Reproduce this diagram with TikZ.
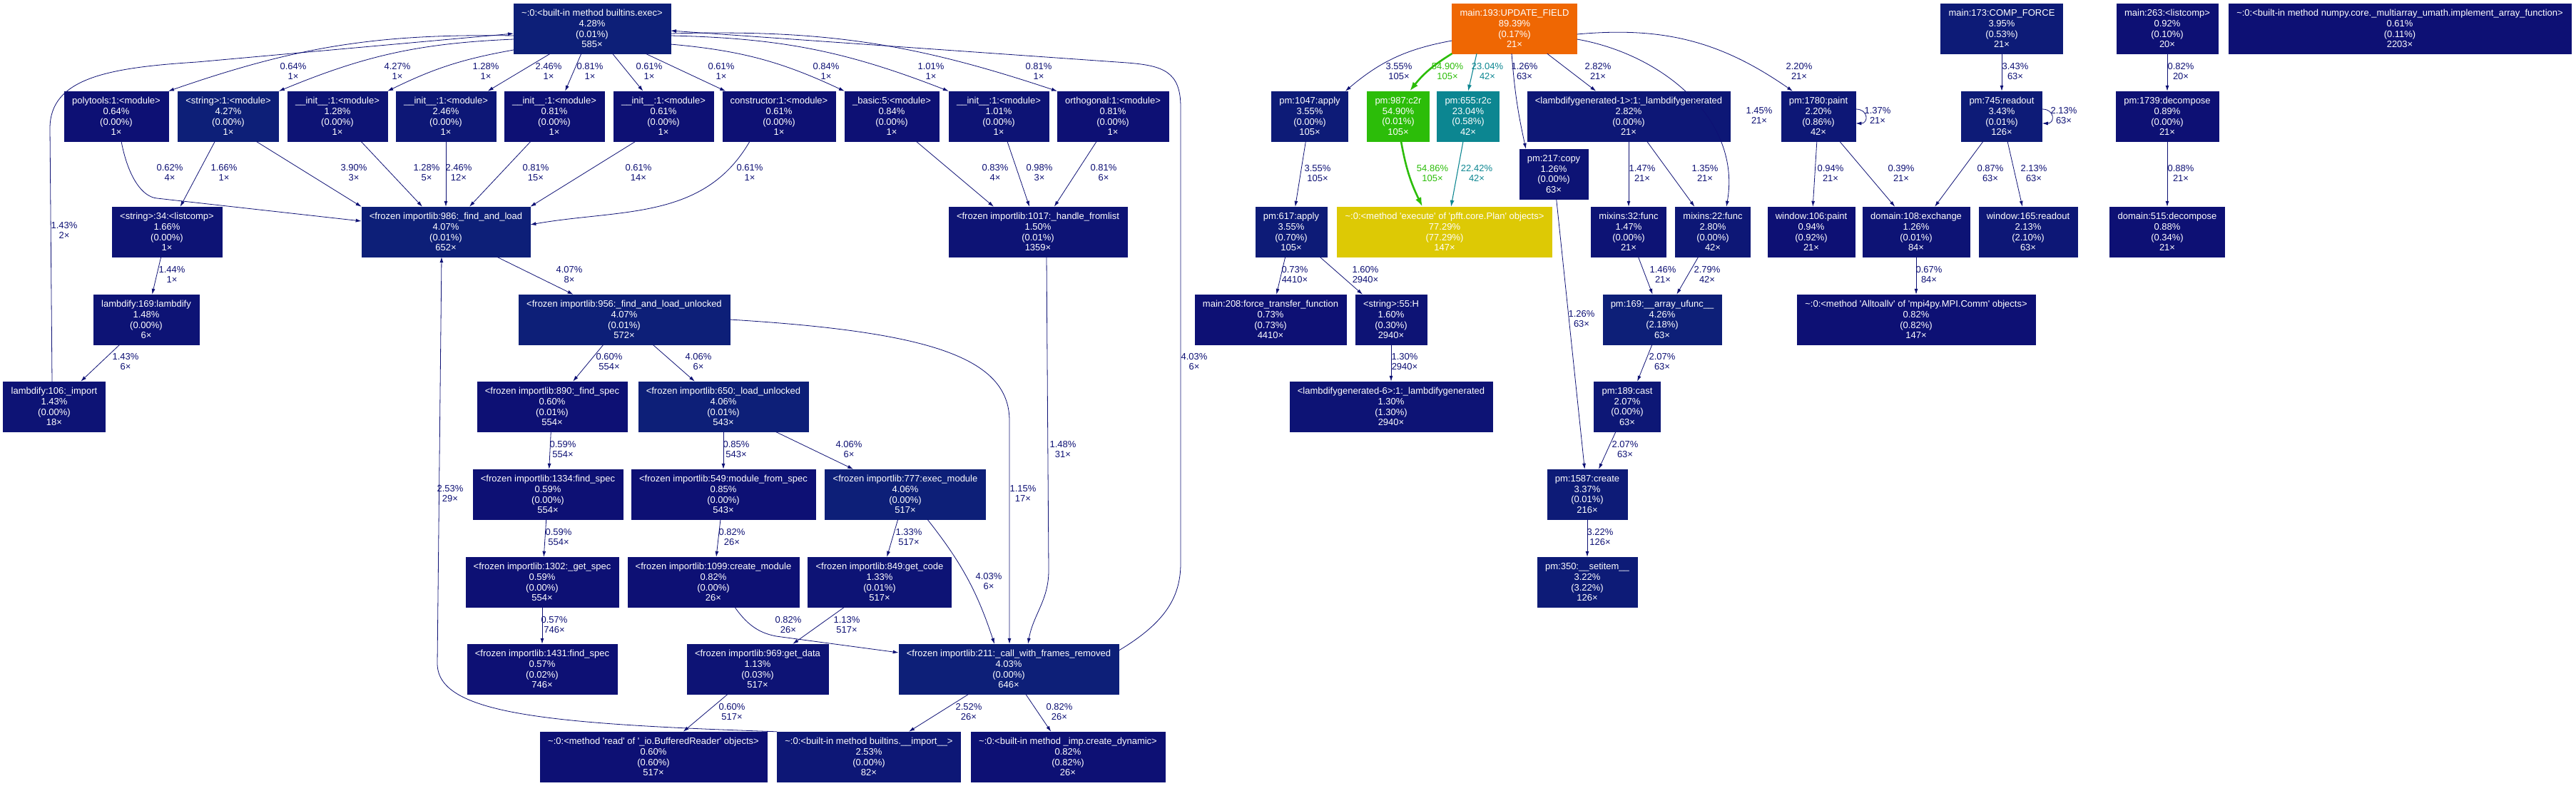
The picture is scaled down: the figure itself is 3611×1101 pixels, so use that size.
\documentclass[tikz,border=0pt]{standalone}
\usepackage{fontspec}
\newfontfamily\gvfont{Liberation Sans}
\usetikzlibrary{arrows.meta,calc}

\definecolor{navyA}{HTML}{0D1074}
\definecolor{navyB}{HTML}{0D1375}
\definecolor{navyC}{HTML}{0D1776}
\definecolor{navyD}{HTML}{0D1B77}
\definecolor{navyE}{HTML}{0D1F78}
\definecolor{hotorange}{HTML}{EF6703}
\definecolor{hotgreen}{HTML}{2CBD09}
\definecolor{hotteal}{HTML}{0C8691}
\definecolor{hotyellow}{HTML}{DDC905}

\newcommand{\fnlabel}[4]{#1\\#2\%\\(#3\%)\\#4×}
\newcommand{\edlabel}[2]{#1\%\\#2×}

\tikzset{
  fn/.style={rectangle, draw=#1, fill=#1, text=white, align=center,
    minimum height=70pt, inner xsep=11pt, inner ysep=1pt,
    font=\gvfont\fontsize{13}{14.7}\selectfont},
  fn/.default=navyA,
  call/.style={->, draw=navyA, line width=0.8pt},
  callhot/.style={call, draw=hotgreen, line width=2.6pt, >={Latex[length=13pt,width=9pt]}},
  callwarm/.style={call, draw=hotteal, line width=1.1pt, >={Latex[length=9pt,width=6pt]}},
  cnt/.style={align=center, text=navyA, inner sep=0pt,
    font=\gvfont\fontsize{13}{14.7}\selectfont},
}

\begin{document}
\begin{tikzpicture}[x=1pt, y=1pt, >={Latex[length=8pt,width=5pt]}]
        \useasboundingbox (0,0) rectangle (3611,-1101);

        % Riga superiore
        \node[fn=navyE] (exec) at (830,-40) {\fnlabel{\textasciitilde:0:<built-in method builtins.exec>}{4.28}{0.01}{585}};
        \node[fn=hotorange] (upd) at (2123,-40) {\fnlabel{main:193:UPDATE\_FIELD}{89.39}{0.17}{21}};
        \node[fn=navyD] (force) at (2806,-40) {\fnlabel{main:173:COMP\_FORCE}{3.95}{0.53}{21}};
        \node[fn] (lc263) at (3038,-40) {\fnlabel{main:263:<listcomp>}{0.92}{0.10}{20}};
        \node[fn] (npfunc) at (3364,-40) {\fnlabel{\textasciitilde:0:<built-in method numpy.core.\_multiarray\_umath.implement\_array\_function>}{0.61}{0.11}{2203}};

        % Moduli importati
        \node[fn] (polytools) at (163,-163) {\fnlabel{polytools:1:<module>}{0.64}{0.00}{1}};
        \node[fn=navyE] (str1) at (320,-163) {\fnlabel{<string>:1:<module>}{4.27}{0.00}{1}};
        \node[fn=navyB] (initA) at (473,-163) {\fnlabel{\_\_init\_\_:1:<module>}{1.28}{0.00}{1}};
        \node[fn=navyC] (initB) at (625,-163) {\fnlabel{\_\_init\_\_:1:<module>}{2.46}{0.00}{1}};
        \node[fn] (initC) at (777,-163) {\fnlabel{\_\_init\_\_:1:<module>}{0.81}{0.00}{1}};
        \node[fn] (initD) at (930,-163) {\fnlabel{\_\_init\_\_:1:<module>}{0.61}{0.00}{1}};
        \node[fn] (constr) at (1092,-163) {\fnlabel{constructor:1:<module>}{0.61}{0.00}{1}};
        \node[fn] (basic) at (1250,-163) {\fnlabel{\_basic:5:<module>}{0.84}{0.00}{1}};
        \node[fn=navyB] (initE) at (1400,-163) {\fnlabel{\_\_init\_\_:1:<module>}{1.01}{0.00}{1}};
        \node[fn] (ortho) at (1560,-163) {\fnlabel{orthogonal:1:<module>}{0.81}{0.00}{1}};

        % Chiamate di UPDATE_FIELD e COMP_FORCE
        \node[fn=navyD] (apply1047) at (1836,-163) {\fnlabel{pm:1047:apply}{3.55}{0.00}{105}};
        \node[fn=hotgreen] (c2r) at (1960,-163) {\fnlabel{pm:987:c2r}{54.90}{0.01}{105}};
        \node[fn=hotteal] (r2c) at (2058,-163) {\fnlabel{pm:655:r2c}{23.04}{0.58}{42}};
        \node[fn=navyC] (lgen1) at (2283,-163) {\fnlabel{<lambdifygenerated-1>:1:\_lambdifygenerated}{2.82}{0.00}{21}};
        \node[fn=navyC] (paint) at (2549,-163) {\fnlabel{pm:1780:paint}{2.20}{0.86}{42}};
        \node[fn=navyD] (readout) at (2806,-163) {\fnlabel{pm:745:readout}{3.43}{0.01}{126}};
        \node[fn] (decomp) at (3038,-163) {\fnlabel{pm:1739:decompose}{0.89}{0.00}{21}};
        \node[fn=navyB] (copy) at (2178,-244) {\fnlabel{pm:217:copy}{1.26}{0.00}{63}};

        \node[fn=navyB] (lc34) at (234,-325) {\fnlabel{<string>:34:<listcomp>}{1.66}{0.00}{1}};
        \node[fn=navyE] (findload) at (625,-325) {\fnlabel{<frozen importlib:986:\_find\_and\_load}{4.07}{0.01}{652}};
        \node[fn=navyB] (fromlist) at (1455,-325) {\fnlabel{<frozen importlib:1017:\_handle\_fromlist}{1.50}{0.01}{1359}};
        \node[fn=navyD] (apply617) at (1810,-325) {\fnlabel{pm:617:apply}{3.55}{0.70}{105}};
        \node[fn=hotyellow] (execute) at (2025,-325) {\fnlabel{\textasciitilde:0:<method \textquotesingle execute\textquotesingle{} of \textquotesingle pfft.core.Plan\textquotesingle{} objects>}{77.29}{77.29}{147}};
        \node[fn=navyB] (mix32) at (2283,-325) {\fnlabel{mixins:32:func}{1.47}{0.00}{21}};
        \node[fn=navyC] (mix22) at (2401,-325) {\fnlabel{mixins:22:func}{2.80}{0.00}{42}};
        \node[fn] (wpaint) at (2539,-325) {\fnlabel{window:106:paint}{0.94}{0.92}{21}};
        \node[fn=navyB] (exchange) at (2686,-325) {\fnlabel{domain:108:exchange}{1.26}{0.01}{84}};
        \node[fn=navyC] (wread) at (2843,-325) {\fnlabel{window:165:readout}{2.13}{2.10}{63}};
        \node[fn] (ddecomp) at (3038,-325) {\fnlabel{domain:515:decompose}{0.88}{0.34}{21}};

        \node[fn=navyB] (lambdify) at (205,-448) {\fnlabel{lambdify:169:lambdify}{1.48}{0.00}{6}};
        \node[fn=navyE] (unlocked) at (875,-448) {\fnlabel{<frozen importlib:956:\_find\_and\_load\_unlocked}{4.07}{0.01}{572}};
        \node[fn] (transfer) at (1781,-448) {\fnlabel{main:208:force\_transfer\_function}{0.73}{0.73}{4410}};
        \node[fn=navyB] (strH) at (1950,-448) {\fnlabel{<string>:55:H}{1.60}{0.30}{2940}};
        \node[fn=navyE] (ufunc) at (2330,-448) {\fnlabel{pm:169:\_\_array\_ufunc\_\_}{4.26}{2.18}{63}};
        \node[fn] (alltoallv) at (2686,-448) {\fnlabel{\textasciitilde:0:<method \textquotesingle Alltoallv\textquotesingle{} of \textquotesingle mpi4py.MPI.Comm\textquotesingle{} objects>}{0.82}{0.82}{147}};

        \node[fn=navyB] (import106) at (76,-570) {\fnlabel{lambdify:106:\_import}{1.43}{0.00}{18}};
        \node[fn] (spec890) at (774,-570) {\fnlabel{<frozen importlib:890:\_find\_spec}{0.60}{0.01}{554}};
        \node[fn=navyE] (loadunl) at (1014,-570) {\fnlabel{<frozen importlib:650:\_load\_unlocked}{4.06}{0.01}{543}};
        \node[fn=navyB] (lgen6) at (1950,-570) {\fnlabel{<lambdifygenerated-6>:1:\_lambdifygenerated}{1.30}{1.30}{2940}};
        \node[fn=navyC] (cast) at (2281,-570) {\fnlabel{pm:189:cast}{2.07}{0.00}{63}};

        \node[fn] (spec1334) at (768,-693) {\fnlabel{<frozen importlib:1334:find\_spec}{0.59}{0.00}{554}};
        \node[fn] (fromspec) at (1014,-693) {\fnlabel{<frozen importlib:549:module\_from\_spec}{0.85}{0.00}{543}};
        \node[fn=navyE] (execmod) at (1269,-693) {\fnlabel{<frozen importlib:777:exec\_module}{4.06}{0.00}{517}};
        \node[fn=navyD] (create) at (2225,-693) {\fnlabel{pm:1587:create}{3.37}{0.01}{216}};

        \node[fn] (getspec) at (760,-816) {\fnlabel{<frozen importlib:1302:\_get\_spec}{0.59}{0.00}{554}};
        \node[fn] (createmod) at (1000,-816) {\fnlabel{<frozen importlib:1099:create\_module}{0.82}{0.00}{26}};
        \node[fn=navyB] (getcode) at (1233,-816) {\fnlabel{<frozen importlib:849:get\_code}{1.33}{0.01}{517}};
        \node[fn=navyD] (setitem) at (2225,-816) {\fnlabel{pm:350:\_\_setitem\_\_}{3.22}{3.22}{126}};

        \node[fn] (spec1431) at (760,-938) {\fnlabel{<frozen importlib:1431:find\_spec}{0.57}{0.02}{746}};
        \node[fn=navyB] (getdata) at (1062,-938) {\fnlabel{<frozen importlib:969:get\_data}{1.13}{0.03}{517}};
        \node[fn=navyE] (frames) at (1414,-938) {\fnlabel{<frozen importlib:211:\_call\_with\_frames\_removed}{4.03}{0.00}{646}};

        \node[fn] (readbuf) at (916,-1061) {\fnlabel{\textasciitilde:0:<method \textquotesingle read\textquotesingle{} of \textquotesingle\_io.BufferedReader\textquotesingle{} objects>}{0.60}{0.60}{517}};
        \node[fn=navyC] (bimport) at (1218,-1061) {\fnlabel{\textasciitilde:0:<built-in method builtins.\_\_import\_\_>}{2.53}{0.00}{82}};
        \node[fn] (dynamic) at (1497,-1061) {\fnlabel{\textasciitilde:0:<built-in method \_imp.create\_dynamic>}{0.82}{0.82}{26}};

        % Archi da builtins.exec
        \draw[call] ($(exec.west)+(0,-10)$) to[bend right=10] (polytools.north east) node[cnt] at (411,-100) {\edlabel{0.64}{1}};
        \draw[call] ($(exec.west)+(0,-15)$) to[bend right=10] (str1.north east) node[cnt] at (557,-100) {\edlabel{4.27}{1}};
        \draw[call] ($(exec.west)+(0,-30)$) to[bend right=8] (initA.north east) node[cnt] at (681,-100) {\edlabel{1.28}{1}};
        \draw[call] (exec) -- (initB) node[cnt] at (769,-100) {\edlabel{2.46}{1}};
        \draw[call] (exec) -- (initC) node[cnt] at (827,-100) {\edlabel{0.81}{1}};
        \draw[call] (exec) -- (initD) node[cnt] at (910,-100) {\edlabel{0.61}{1}};
        \draw[call] (exec) -- (constr) node[cnt] at (1011,-100) {\edlabel{0.61}{1}};
        \draw[call] ($(exec.east)+(0,-22)$) to[bend left=10] (basic.north west) node[cnt] at (1158,-100) {\edlabel{0.84}{1}};
        \draw[call] ($(exec.east)+(0,-10)$) to[bend left=10] (initE.north west) node[cnt] at (1305,-100) {\edlabel{1.01}{1}};
        \draw[call] ($(exec.east)+(0,-7)$) to[bend left=10] (ortho.north west) node[cnt] at (1456,-100) {\edlabel{0.81}{1}};

        % Import: find_and_load
        \draw[call] ($(polytools.south)+(7,0)$) .. controls (180,-250) and (200,-276) .. (220,-278) -- ($(findload.west)+(0,15)$) node[cnt] at (238,-242) {\edlabel{0.62}{4}};
        \draw[call] (str1) -- (lc34) node[cnt] at (314,-242) {\edlabel{1.66}{1}};
        \draw[call] ($(str1.south)+(39,0)$) -- (findload.north west) node[cnt] at (496,-242) {\edlabel{3.90}{3}};
        \draw[call] (initA) -- (findload) node[cnt] at (598,-242) {\edlabel{1.28}{5}};
        \draw[call] (initB) -- (findload) node[cnt] at (643,-242) {\edlabel{2.46}{12}};
        \draw[call] (initC) -- (findload) node[cnt] at (751,-242) {\edlabel{0.81}{15}};
        \draw[call] ($(initD.south)+(-39,0)$) -- (findload.north east) node[cnt] at (895,-242) {\edlabel{0.61}{14}};
        \draw[call] ($(constr.south)+(-41,0)$) to[out=-120,in=10] ($(findload.east)+(0,10)$) node[cnt] at (1051,-242) {\edlabel{0.61}{1}};
        \draw[call] (basic) ++(34,-35) -- ($(fromlist.north)+(-62,0)$) node[cnt] at (1395,-242) {\edlabel{0.83}{4}};
        \draw[call] (initE) -- (fromlist) node[cnt] at (1457,-242) {\edlabel{0.98}{3}};
        \draw[call] (ortho) -- (fromlist) node[cnt] at (1547,-242) {\edlabel{0.81}{6}};

        \draw[call] (lc34) -- (lambdify) node[cnt] at (241,-385) {\edlabel{1.44}{1}};
        \draw[call] (lambdify) -- (import106) node[cnt] at (176,-507) {\edlabel{1.43}{6}};
        \draw[call] ($(import106.north)+(-3,0)$) -- (70,-180) .. controls (70,-110) and (150,-95) .. (276,-87) -- ($(exec.west)+(0,-7)$) node[cnt] at (90,-323) {\edlabel{1.43}{2}};
        \draw[call] (findload) -- (unlocked) node[cnt] at (798,-385) {\edlabel{4.07}{8}};
        \draw[call] (bimport.north west) .. controls (760,-1015) and (613,-1000) .. (613,-930) -- ($(findload.south)+(-6,0)$) node[cnt] at (631,-692) {\edlabel{2.53}{29}};

        \draw[call] (unlocked) -- (spec890) node[cnt] at (854,-507) {\edlabel{0.60}{554}};
        \draw[call] (unlocked) -- (loadunl) node[cnt] at (979,-507) {\edlabel{4.06}{6}};
        \draw[call] (unlocked.east) .. controls (1300,-465) and (1415,-500) .. (1415,-590) -- ($(frames.north)+(1,0)$) node[cnt] at (1434,-692) {\edlabel{1.15}{17}};
        \draw[call] ($(fromlist.south)+(12,0)$) -- (1470,-800) to[out=-90,in=80] ($(frames.north)+(27,0)$) node[cnt] at (1490,-630) {\edlabel{1.48}{31}};

        \draw[call] (spec890) -- (spec1334) node[cnt] at (789,-630) {\edlabel{0.59}{554}};
        \draw[call] (spec1334) -- (getspec) node[cnt] at (783,-753) {\edlabel{0.59}{554}};
        \draw[call] (getspec) -- (spec1431) node[cnt] at (777,-876) {\edlabel{0.57}{746}};
        \draw[call] (loadunl) -- (fromspec) node[cnt] at (1032,-630) {\edlabel{0.85}{543}};
        \draw[call] (loadunl) -- (execmod) node[cnt] at (1190,-630) {\edlabel{4.06}{6}};
        \draw[call] (fromspec) -- (createmod) node[cnt] at (1026,-753) {\edlabel{0.82}{26}};
        \draw[call] (execmod) -- (getcode) node[cnt] at (1274,-753) {\edlabel{1.33}{517}};
        \draw[call] ($(execmod.south)+(31,0)$) to[bend left=10] ($(frames.north)+(-20,0)$) node[cnt] at (1386,-815) {\edlabel{4.03}{6}};
        \draw[call] ($(createmod.south)+(30,0)$) .. controls (1050,-880) and (1068,-888) .. (1088,-892) -- ($(frames.west)+(0,23)$) node[cnt] at (1105,-876) {\edlabel{0.82}{26}};
        \draw[call] (getcode) -- (getdata) node[cnt] at (1187,-876) {\edlabel{1.13}{517}};
        \draw[call] (getdata) -- (readbuf) node[cnt] at (1026,-998) {\edlabel{0.60}{517}};
        \draw[call] (frames) -- (bimport) node[cnt] at (1358,-998) {\edlabel{2.52}{26}};
        \draw[call] (frames) -- (dynamic) node[cnt] at (1485,-998) {\edlabel{0.82}{26}};
        \draw[call] ($(frames.east)+(0,26)$) .. controls (1630,-875) and (1655,-840) .. (1655,-790) -- (1655,-150) .. controls (1655,-100) and (1630,-92) .. (1580,-88) -- ($(exec.east)+(0,-3)$) node[cnt] at (1674,-507) {\edlabel{4.03}{6}};

        % Archi da UPDATE_FIELD
        \draw[call] ($(upd.west)+(0,-17)$) to[bend right=15] ($(apply1047.north east)+(-4,0)$) node[cnt] at (1961,-100) {\edlabel{3.55}{105}};
        \draw[callhot] (upd.south west) to[bend right=10] ($(c2r.north)+(16,0)$) node[cnt, text=hotgreen] at (2029,-100) {\edlabel{54.90}{105}};
        \draw[callwarm] ($(upd.south)+(-53,0)$) -- (r2c.north) node[cnt, text=hotteal] at (2085,-100) {\edlabel{23.04}{42}};
        \draw[call] ($(upd.south)+(-4,0)$) to[bend right=4] ($(copy.north)+(-39,0)$) node[cnt] at (2137,-100) {\edlabel{1.26}{63}};
        \draw[call] (upd) -- (lgen1) node[cnt] at (2240,-100) {\edlabel{2.82}{21}};
        \draw[call] ($(upd.east)+(0,-15)$) to[out=-10,in=80] ($(mix22.north)+(19,0)$) node[cnt] at (2466,-162) {\edlabel{1.45}{21}};
        \draw[call] ($(upd.east)+(0,-8)$) to[bend left=20] ($(paint.north)+(-36,0)$) node[cnt] at (2522,-100) {\edlabel{2.20}{21}};
        \draw[call] ($(paint.east)+(0,10)$) .. controls +(18,0) and +(18,0) .. ($(paint.east)+(0,-10)$) node[cnt] at (2632,-162) {\edlabel{1.37}{21}};

        \draw[call] (apply1047) -- (apply617) node[cnt] at (1847,-243) {\edlabel{3.55}{105}};
        \draw[callhot] ($(c2r.south)+(4,0)$) to[bend right=8] ($(execute.north)+(-31,0)$) node[cnt, text=hotgreen] at (2008,-243) {\edlabel{54.86}{105}};
        \draw[callwarm] ($(r2c.south)+(-7,0)$) -- ($(execute.north)+(9,0)$) node[cnt, text=hotteal] at (2070,-243) {\edlabel{22.42}{42}};
        \draw[call] (lgen1) -- (mix32) node[cnt] at (2302,-243) {\edlabel{1.47}{21}};
        \draw[call] (lgen1) -- (mix22) node[cnt] at (2390,-243) {\edlabel{1.35}{21}};
        \draw[call] (paint) -- (wpaint) node[cnt] at (2566,-243) {\edlabel{0.94}{21}};
        \draw[call] (paint) -- (exchange) node[cnt] at (2665,-243) {\edlabel{0.39}{21}};
        \draw[call] (copy) -- (create) node[cnt] at (2217,-447) {\edlabel{1.26}{63}};

        \draw[call] (apply617) -- (transfer) node[cnt] at (1815,-385) {\edlabel{0.73}{4410}};
        \draw[call] (apply617) -- (strH) node[cnt] at (1914,-385) {\edlabel{1.60}{2940}};
        \draw[call] (strH) -- (lgen6) node[cnt] at (1969,-507) {\edlabel{1.30}{2940}};
        \draw[call] (mix32) -- (ufunc) node[cnt] at (2331,-385) {\edlabel{1.46}{21}};
        \draw[call] (mix22) -- (ufunc) node[cnt] at (2393,-385) {\edlabel{2.79}{42}};
        \draw[call] (ufunc) -- (cast) node[cnt] at (2330,-507) {\edlabel{2.07}{63}};
        \draw[call] (cast) -- (create) node[cnt] at (2278,-630) {\edlabel{2.07}{63}};
        \draw[call] (create) -- (setitem) node[cnt] at (2243,-753) {\edlabel{3.22}{126}};
        \draw[call] (exchange) -- (alltoallv) node[cnt] at (2704,-385) {\edlabel{0.67}{84}};

        % Archi da COMP_FORCE e listcomp
        \draw[call] (force) -- (readout) node[cnt] at (2825,-100) {\edlabel{3.43}{63}};
        \draw[call] ($(readout.east)+(0,10)$) .. controls +(18,0) and +(18,0) .. ($(readout.east)+(0,-10)$) node[cnt] at (2893,-162) {\edlabel{2.13}{63}};
        \draw[call] (readout) -- (exchange) node[cnt] at (2790,-243) {\edlabel{0.87}{63}};
        \draw[call] (readout) -- (wread) node[cnt] at (2851,-243) {\edlabel{2.13}{63}};
        \draw[call] (lc263) -- (decomp) node[cnt] at (3057,-100) {\edlabel{0.82}{20}};
        \draw[call] (decomp) -- (ddecomp) node[cnt] at (3057,-243) {\edlabel{0.88}{21}};
\end{tikzpicture}
\end{document}
